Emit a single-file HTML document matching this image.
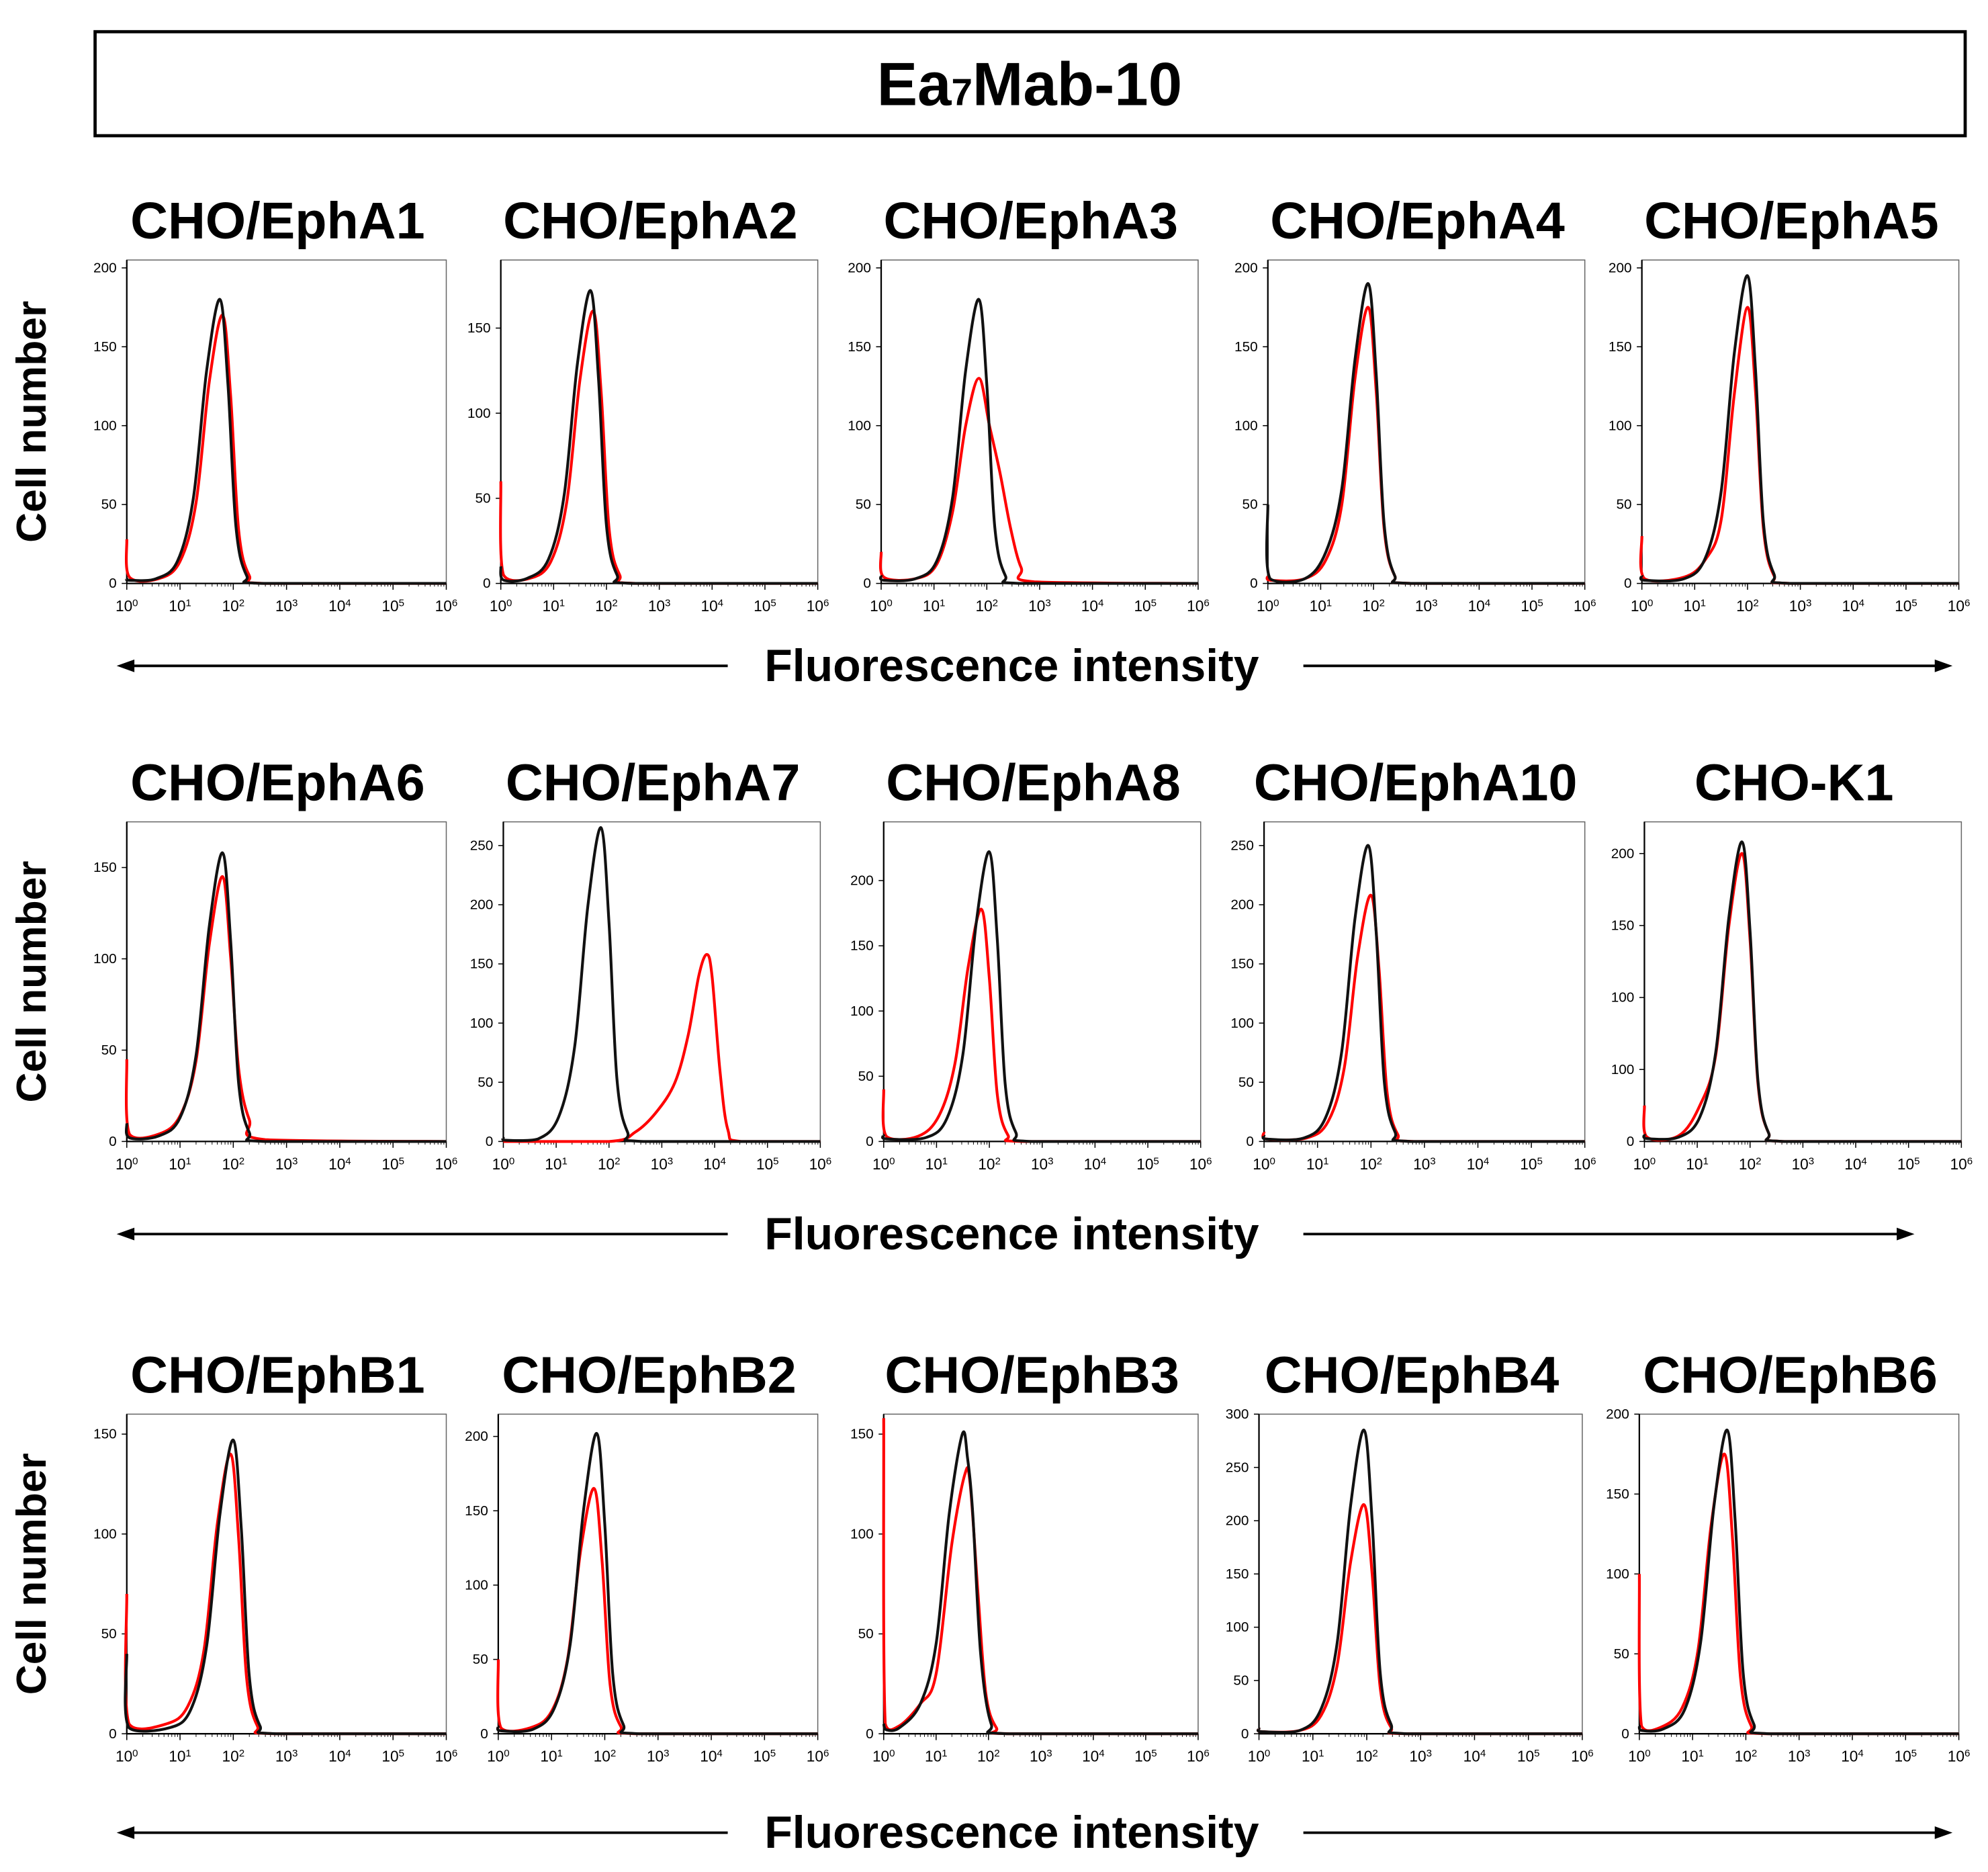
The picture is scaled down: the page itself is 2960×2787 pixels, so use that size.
<!DOCTYPE html>
<html><head><meta charset="utf-8"><style>
html,body{margin:0;padding:0;background:#fff;}
svg{display:block;font-family:"Liberation Sans",Arial,sans-serif;}
</style></head><body>
<svg id="fig" width="2960" height="2787" viewBox="0 0 1568 1476" preserveAspectRatio="none" xmlns="http://www.w3.org/2000/svg">
<rect x="0" y="0" width="1568" height="1476" fill="#fff"/>
<rect x="75" y="25" width="1475" height="82" fill="none" stroke="#000" stroke-width="2.5"/>
<text x="812" y="83" text-anchor="middle" font-size="48" font-weight="bold">Ea<tspan font-size="30">7</tspan>Mab-10</text>
<g id="panels"></g>
</svg>
<script>
const panelTitles=["CHO/EphA1","CHO/EphA2","CHO/EphA3","CHO/EphA4","CHO/EphA5","CHO/EphA6","CHO/EphA7","CHO/EphA8","CHO/EphA10","CHO-K1","CHO/EphB1","CHO/EphB2","CHO/EphB3","CHO/EphB4","CHO/EphB6"];
const yMaxes=[205,190,205,205,205,175,270,245,270,222,160,215,160,300,200];
const yTickValues=[[0,50,100,150,200],[0,50,100,150],[0,50,100,150,200],[0,50,100,150,200],[0,50,100,150,200],[0,50,100,150],[0,50,100,150,200,250],[0,50,100,150,200],[0,50,100,150,200,250],[0,50,100,150,200],[0,50,100,150],[0,50,100,150,200],[0,50,100,150],[0,50,100,150,200,250,300],[0,50,100,150,200]];
const yTickLabels=[null,null,null,null,null,null,null,null,null,["0","100","100","150","200"],null,null,null,null,null];
const xDecades=[0,1,2,3,4,5,6];
const blackCurves=[
[[0,3],[0.05,2],[0.55,3],[0.95,14],[1.25,54],[1.5,135],[1.75,180],[1.9,126],[2.05,36],[2.25,5],[2.55,0],[6,0]],
[[0,10],[0.05,2],[0.5,3],[0.9,14],[1.2,52],[1.45,129],[1.7,172],[1.85,120],[2.0,34],[2.2,5],[2.5,0],[6,0]],
[[0,5],[0.05,2],[0.65,3],[1.05,14],[1.35,54],[1.6,135],[1.85,180],[2.0,126],[2.15,36],[2.35,5],[2.65,0],[6,0]],
[[0,50],[0.04,3],[0.7,3],[1.1,20],[1.4,60],[1.65,142],[1.9,190],[2.05,133],[2.2,38],[2.4,5],[2.7,0],[6,0]],
[[0,5],[0.05,2],[0.8,3],[1.2,16],[1.5,58],[1.75,146],[2.0,195],[2.15,136],[2.3,39],[2.5,6],[2.8,0],[6,0]],
[[0,10],[0.05,2],[0.6,3],[1.0,13],[1.3,47],[1.55,118],[1.8,158],[1.95,110],[2.1,32],[2.3,5],[2.6,0],[6,0]],
[[0,3],[0.05,1],[0.65,2],[1.05,21],[1.35,80],[1.6,199],[1.85,265],[2.0,185],[2.15,53],[2.35,8],[2.65,0],[6,0]],
[[0,5],[0.05,2],[0.8,3],[1.2,18],[1.5,67],[1.75,167],[2.0,222],[2.15,155],[2.3,44],[2.5,7],[2.8,0],[6,0]],
[[0,5],[0.05,2],[0.75,3],[1.15,20],[1.45,75],[1.7,188],[1.95,250],[2.1,175],[2.25,50],[2.45,8],[2.75,0],[6,0]],
[[0,5],[0.05,2],[0.65,3],[1.05,17],[1.35,62],[1.6,156],[1.85,208],[2.0,146],[2.15,42],[2.35,6],[2.65,0],[6,0]],
[[0,40],[0.04,3],[0.8,3],[1.2,12],[1.5,44],[1.75,110],[2.0,147],[2.15,103],[2.3,29],[2.5,4],[2.8,0],[6,0]],
[[0,5],[0.05,2],[0.65,3],[1.05,17],[1.35,60],[1.6,150],[1.85,202],[2.0,141],[2.15,40],[2.35,6],[2.65,0],[6,0]],
[[0,5],[0.05,2],[0.3,3],[0.7,15],[1.0,45],[1.25,110],[1.5,150],[1.6,138],[1.7,110],[1.85,40],[2.05,5],[2.35,0],[6,0]],
[[0,5],[0.05,2],[0.75,3],[1.15,23],[1.45,85],[1.7,214],[1.95,285],[2.1,200],[2.25,57],[2.45,9],[2.75,0],[6,0]],
[[0,5],[0.05,2],[0.45,3],[0.85,15],[1.15,57],[1.4,142],[1.65,190],[1.8,133],[1.95,38],[2.15,6],[2.45,0],[6,0]]
];
const redCurves=[
[[0,28],[0.05,4],[0.6,3],[1.0,14],[1.3,51],[1.55,128],[1.8,170],[1.95,119],[2.1,34],[2.3,5],[2.6,0],[6,0]],
[[0,60],[0.05,5],[0.55,3],[0.95,13],[1.25,48],[1.5,120],[1.75,160],[1.9,112],[2.05,32],[2.25,5],[2.55,0],[6,0]],
[[0,20],[0.05,4],[0.65,3],[1.05,12],[1.35,45],[1.6,100],[1.85,130],[2.05,100],[2.25,70],[2.45,35],[2.65,10],[2.9,1],[6,0]],
[[0,5],[0.05,2],[0.7,3],[1.1,15],[1.4,50],[1.65,130],[1.9,175],[2.05,122],[2.2,35],[2.4,5],[2.7,0],[6,0]],
[[0,30],[0.05,3],[0.8,4],[1.2,15],[1.5,40],[1.75,120],[2.0,175],[2.15,122],[2.3,35],[2.5,5],[2.8,0],[6,0]],
[[0,45],[0.05,4],[0.6,4],[1.0,14],[1.3,44],[1.55,108],[1.8,145],[1.95,101],[2.1,40],[2.3,12],[2.6,1],[6,0]],
[[0,0],[2.0,0],[2.5,8],[2.9,25],[3.25,50],[3.5,90],[3.7,140],[3.85,158],[3.95,140],[4.1,60],[4.25,10],[4.5,0],[6,0]],
[[0,40],[0.05,4],[0.65,4],[1.05,20],[1.35,60],[1.6,134],[1.85,178],[2.0,125],[2.15,36],[2.35,5],[2.65,0],[6,0]],
[[0,8],[0.05,2],[0.8,3],[1.2,17],[1.5,62],[1.75,156],[2.0,208],[2.15,146],[2.3,42],[2.5,6],[2.8,0],[6,0]],
[[0,25],[0.05,3],[0.65,4],[1.05,25],[1.35,60],[1.6,150],[1.85,200],[2.0,140],[2.15,40],[2.35,6],[2.65,0],[6,0]],
[[0,70],[0.04,5],[0.75,5],[1.15,14],[1.45,42],[1.7,105],[1.95,140],[2.1,98],[2.25,28],[2.45,4],[2.75,0],[6,0]],
[[0,50],[0.05,4],[0.6,4],[1.0,15],[1.3,50],[1.55,124],[1.8,165],[1.95,116],[2.1,33],[2.3,5],[2.6,0],[6,0]],
[[0,158],[0.03,5],[0.3,4],[0.7,15],[1.0,30],[1.3,95],[1.55,130],[1.65,125],[1.8,70],[1.95,20],[2.15,3],[2.4,0],[6,0]],
[[0,5],[0.05,2],[0.75,3],[1.15,17],[1.45,64],[1.7,161],[1.95,215],[2.1,150],[2.25,43],[2.45,6],[2.75,0],[6,0]],
[[0,100],[0.04,5],[0.4,4],[0.8,16],[1.1,52],[1.35,131],[1.6,175],[1.75,122],[1.9,35],[2.1,5],[2.4,0],[6,0]]
];
const boxX=[[100,352],[395,645],[695,945],[1000,1250],[1295,1545],[100,352],[397,647],[697,947],[997,1250],[1297,1547],[100,352],[393,645],[697,945],[993,1248],[1293,1545]];
const rowBox=[[205,460],[648,900],[1115,1367]];
const rowArrowY=[525,973,1445];
const NS="http://www.w3.org/2000/svg";
const root=document.getElementById('panels');
function mk(tag,attrs,parent){const e=document.createElementNS(NS,tag);for(const k in attrs)e.setAttribute(k,attrs[k]);(parent||root).appendChild(e);return e;}
function smoothPath(pts,yLim){let d="M"+pts[0][0]+","+pts[0][1];for(let i=0;i<pts.length-1;i++){const p0=pts[Math.max(0,i-1)],p1=pts[i],p2=pts[i+1],p3=pts[Math.min(pts.length-1,i+2)];const c1x=p1[0]+(p2[0]-p0[0])/6,c1y=Math.min(yLim,p1[1]+(p2[1]-p0[1])/6),c2x=p2[0]-(p3[0]-p1[0])/6,c2y=Math.min(yLim,p2[1]-(p3[1]-p1[1])/6);d+=" C"+c1x.toFixed(2)+","+c1y.toFixed(2)+" "+c2x.toFixed(2)+","+c2y.toFixed(2)+" "+p2[0].toFixed(2)+","+p2[1].toFixed(2);}return d;}
for(let i=0;i<15;i++){
  const row=Math.floor(i/5);const [x0,x1]=boxX[i];const [y0,y1]=rowBox[row];
  const g=mk('g',{});
  
  
  const xs=v=>x0+(v/6)*(x1-x0);
  const ys=v=>y1-(v/yMaxes[i])*(y1-y0);
  const t=mk('text',{x:(x0+x1)/2-7,y:y0-17,'text-anchor':'middle','font-size':'41','font-weight':'bold'},g);t.textContent=panelTitles[i];
  
  
  const r=mk('rect',{x:x0,y:y0,width:x1-x0,height:y1-y0,fill:'none',stroke:'#666','stroke-width':'0.8'},g);
  
  
  mk('line',{x1:x0,y1:y0,x2:x0,y2:y1,stroke:'#000','stroke-width':'1.2'},g);
  mk('line',{x1:x0,y1:y1,x2:x1,y2:y1,stroke:'#000','stroke-width':'1.2'},g);
  yTickValues[i].forEach((v,k)=>{const y=ys(v);mk('line',{x1:x0-4,y1:y,x2:x0,y2:y,stroke:'#000','stroke-width':'0.8'},g);
    const tl=mk('text',{x:x0-8,y:y+3.5,'text-anchor':'end','font-size':'11'},g);tl.textContent=yTickLabels[i]?yTickLabels[i][k]:String(v);
    
    });
  xDecades.forEach(d=>{const x=xs(d);mk('line',{x1:x,y1:y1,x2:x,y2:y1+5,stroke:'#000','stroke-width':'0.8'},g);
    if(d<6){for(let m=2;m<10;m++){const xm=xs(d+Math.log10(m));mk('line',{x1:xm,y1:y1,x2:xm,y2:y1+2.5,stroke:'#000','stroke-width':'0.5'},g);}}
    const tl=mk('text',{x:x,y:y1+22,'text-anchor':'middle','font-size':'12'},g);tl.textContent='10';
    const sp=mk('tspan',{dy:'-4','font-size':'8'},tl);sp.textContent=String(d);
    
    });
  const rp=mk('path',{d:smoothPath(redCurves[i].map(p=>[xs(p[0]),ys(p[1])]),y1),fill:'none',stroke:'#ff0000','stroke-width':'2.2'},g);
  
  
  const bp=mk('path',{d:smoothPath(blackCurves[i].map(p=>[xs(p[0]),ys(p[1])]),y1),fill:'none',stroke:'#111','stroke-width':'2.2'},g);
  
  
}
for(let r=0;r<3;r++){
  const [y0,y1]=rowBox[r];
  const cl=mk('text',{x:0,y:0,transform:'translate(36,'+((y0+y1)/2)+') rotate(-90)','text-anchor':'middle','font-size':'33','font-weight':'bold'});cl.textContent='Cell number';
  
  
  const ay=rowArrowY[r];const rightEnd=r==1?1510:1540;
  const ag=mk('g',{});
  
  
  mk('line',{x1:98,y1:ay,x2:574,y2:ay,stroke:'#000','stroke-width':'2'},ag);
  mk('path',{d:'M92,'+ay+' L106,'+(ay-5)+' L106,'+(ay+5)+' Z',fill:'#000'},ag);
  mk('line',{x1:1028,y1:ay,x2:rightEnd-5,y2:ay,stroke:'#000','stroke-width':'2'},ag);
  mk('path',{d:'M'+rightEnd+','+ay+' L'+(rightEnd-14)+','+(ay-5)+' L'+(rightEnd-14)+','+(ay+5)+' Z',fill:'#000'},ag);
  const ft=mk('text',{x:798,y:ay+12,'text-anchor':'middle','font-size':'36','font-weight':'bold'},ag);ft.textContent='Fluorescence intensity';
  
  
}
</script>
</body></html>
